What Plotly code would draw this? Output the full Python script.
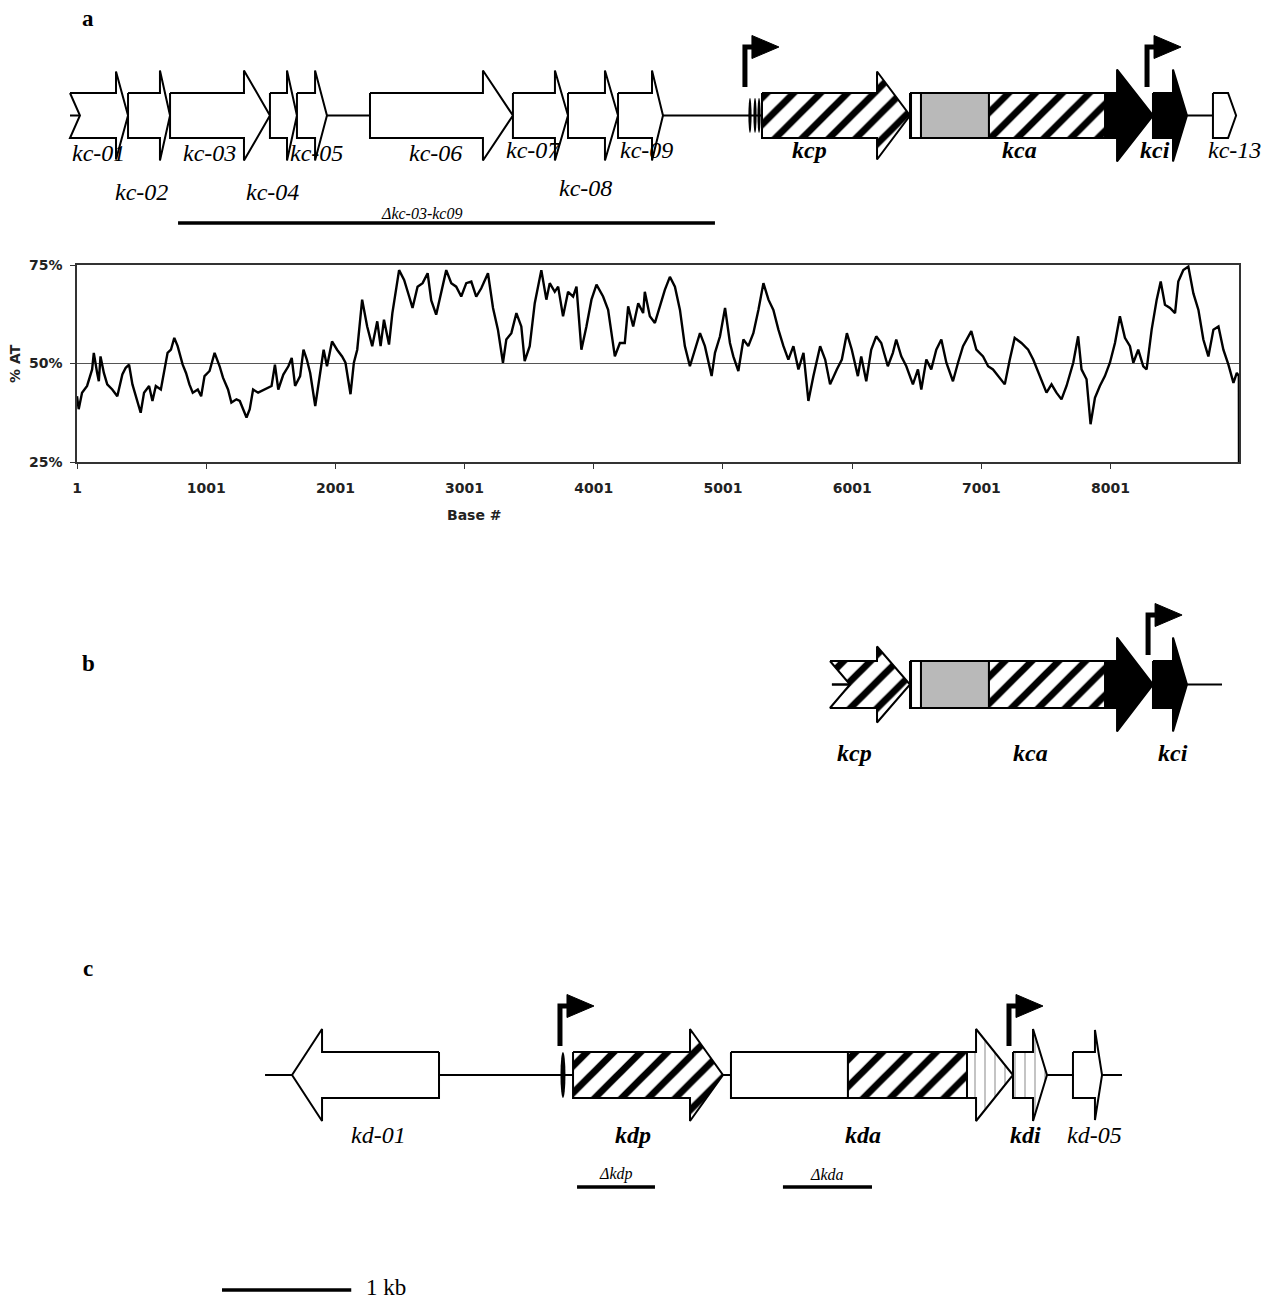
import plotly.graph_objects as go

# ---------------- DATA ----------------
# % AT sliding-window trace (base position, %AT)
AT_BASE = [1, 14, 40, 79, 118, 131, 157, 170, 183, 209,
           235, 274, 313, 352, 378, 404, 430, 455, 481, 494,
           520, 559, 585, 611, 650, 676, 702, 728, 754, 780,
           819, 845, 871, 897, 936, 962, 988, 1027, 1066, 1105,
           1131, 1170, 1196, 1235, 1261, 1287, 1313, 1338, 1364, 1403,
           1455, 1507, 1533, 1559, 1598, 1637, 1663, 1689, 1728, 1754,
           1780, 1806, 1845, 1871, 1910, 1936, 1975, 2014, 2053, 2079,
           2118, 2144, 2170, 2208, 2247, 2286, 2325, 2351, 2377, 2416,
           2442, 2494, 2533, 2572, 2598, 2637, 2676, 2715, 2743, 2781,
           2807, 2859, 2898, 2936, 2975, 3014, 3053, 3091, 3130, 3182,
           3221, 3259, 3298, 3324, 3363, 3402, 3440, 3466, 3505, 3544,
           3595, 3634, 3660, 3699, 3725, 3763, 3802, 3841, 3867, 3905,
           3944, 3983, 4022, 4073, 4112, 4151, 4164, 4203, 4241, 4267,
           4306, 4345, 4383, 4396, 4435, 4474, 4513, 4551, 4590, 4629,
           4668, 4706, 4745, 4784, 4823, 4861, 4913, 4939, 4978, 5017,
           5055, 5081, 5120, 5159, 5197, 5236, 5275, 5314, 5353, 5391,
           5430, 5469, 5507, 5546, 5585, 5624, 5662, 5701, 5753, 5792,
           5830, 5882, 5921, 5960, 5998, 6045, 6071, 6110, 6148, 6187,
           6226, 6277, 6316, 6342, 6381, 6420, 6471, 6510, 6536, 6575,
           6613, 6652, 6691, 6730, 6781, 6820, 6859, 6923, 6962, 7014,
           7053, 7091, 7130, 7182, 7221, 7259, 7311, 7363, 7402, 7453,
           7505, 7544, 7582, 7621, 7660, 7712, 7750, 7776, 7815, 7846,
           7880, 7918, 7957, 7996, 8035, 8073, 8112, 8151, 8177, 8215,
           8254, 8280, 8319, 8358, 8389, 8422, 8461, 8500, 8525, 8564,
           8603, 8642, 8681, 8719, 8758, 8797, 8836, 8874, 8913, 8952,
           8978, 8994, 8995]
AT_PCT = [41.7, 38.4, 42.6, 44.3, 48.5, 52.7, 47.6, 45.5, 51.8, 47.6,
          44.7, 43.4, 41.7, 47.2, 48.9, 49.7, 44.7, 41.7, 39.2, 37.5,
          42.6, 44.3, 40.5, 44.3, 43.4, 47.6, 52.7, 53.5, 56.5, 54.4,
          49.7, 47.6, 44.7, 42.6, 43.4, 41.7, 46.8, 48.1, 52.7, 49.3,
          46.4, 43.4, 40.1, 40.9, 40.5, 38.4, 36.3, 38.4, 43.4, 42.6,
          43.4, 44.3, 49.7, 43.4, 47.2, 49.3, 51.4, 44.3, 46.8, 53.5,
          51.0, 47.6, 39.2, 45.1, 53.5, 49.3, 55.6, 53.5, 51.8, 50.2,
          42.2, 50.2, 53.5, 66.2, 59.4, 54.4, 60.7, 54.4, 61.1, 54.8,
          62.8, 73.7, 71.2, 67.0, 64.1, 69.5, 70.4, 72.9, 66.0, 62.4,
          66.2, 73.7, 70.4, 69.5, 67.0, 70.4, 70.8, 67.0, 69.1, 72.9,
          64.1, 58.6, 50.2, 56.1, 57.7, 62.8, 59.4, 50.6, 54.4, 65.3,
          73.7, 66.2, 70.4, 68.2, 69.5, 62.0, 68.2, 67.0, 69.5, 53.5,
          59.4, 66.2, 70.0, 67.0, 63.6, 54.4, 51.8, 55.2, 55.2, 64.5,
          59.4, 65.3, 62.8, 68.2, 62.0, 60.3, 64.5, 68.7, 72.0, 69.5,
          63.6, 54.4, 49.3, 53.5, 57.7, 54.4, 46.8, 52.7, 56.9, 64.1,
          55.2, 51.8, 48.1, 56.1, 54.4, 57.7, 63.6, 70.4, 66.2, 63.6,
          58.6, 54.4, 51.0, 54.4, 48.5, 52.7, 40.5, 46.8, 54.4, 51.0,
          44.7, 48.5, 51.0, 57.7, 53.5, 46.8, 51.8, 45.5, 53.5, 56.9,
          55.2, 49.3, 52.7, 56.1, 51.8, 49.3, 44.7, 48.5, 43.4, 51.0,
          48.5, 53.5, 56.1, 50.2, 45.5, 50.2, 54.4, 58.2, 53.5, 51.8,
          49.3, 48.5, 46.8, 44.7, 51.0, 56.5, 55.2, 53.5, 51.0, 46.8,
          42.6, 44.7, 42.6, 40.9, 44.3, 50.2, 56.9, 48.5, 46.0, 34.6,
          41.3, 44.3, 46.8, 50.2, 55.2, 62.0, 56.5, 54.4, 50.2, 53.5,
          49.3, 48.5, 58.6, 66.2, 70.8, 64.9, 64.1, 62.8, 70.8, 73.7,
          74.6, 67.8, 63.6, 56.1, 51.8, 58.6, 59.4, 53.5, 49.7, 45.1,
          47.6, 46.8, 25.0]
AT_TICKS = [1, 1001, 2001, 3001, 4001, 5001, 6001, 7001, 8001]
AT_YTICKS = [25, 50, 75]

# Panel a genes (map coordinates in bp): body start, arrow-head start, tip
A_NAMES = ["kc-01", "kc-02", "kc-03", "kc-04", "kc-05", "kc-06", "kc-07",
           "kc-08", "kc-09", "kcp", "kca", "kci", "kc-13"]
A_START = [0, 449, 774, 1547, 1756, 2321, 3427, 3853, 4240, 5354, 6499, 8379, 8843]
A_HEAD = [356, 696, 1346, 1679, 1896, 3195, 3752, 4139, 4503, 6244, 8101, 8534, 8960]
A_END = [449, 774, 1547, 1756, 1988, 3427, 3853, 4240, 4588, 6499, 8379, 8642, 9022]
A_KIND = ["open"] * 9 + ["hatch", "black", "black", "open"]
A_KEY = [False] * 9 + [True, True, True, False]
A_SPAN = [0, 9022]
KCA_WHITE = [6507, 6584]
KCA_GRAY = [6584, 7110]
KCA_HATCH = [7110, 8008]
A_TERM = [5261, 5300, 5331]
A_PROM = [5222, 8333]
A_DEL = [836, 4990]
A_DEL_LABEL = "Δkc-03-kc09"

# Panel b
B_NAMES = ["kcp", "kca", "kci"]
B_START = [5880, 6499, 8379]
B_HEAD = [6244, 8101, 8534]
B_END = [6499, 8379, 8642]
B_KIND = ["hatch", "black", "black"]
B_SPAN = [5895, 8913]
B_PROM = [8341]

# Panel c
C_NAMES = ["kd-01", "kdp", "kda", "kdi", "kd-05"]
C_START = [2855, 3892, 5114, 7296, 7760]
C_HEAD = [1950, 4797, 7010, 7451, 7930]
C_END = [1718, 5052, 7296, 7559, 7985]
C_KIND = ["open", "hatch", "vline", "vline", "open"]
C_KEY = [False, True, True, True, False]
C_SPAN = [1509, 8139]
KDA_WHITE = [5114, 6019]
KDA_HATCH = [6019, 6940]
C_TERM = [3814]
C_PROM = [3791, 7265]
C_DEL = [[3923, 4526], [5516, 6205]]
C_DEL_LABEL = ["Δkdp", "Δkda"]

SCALE_BAR = [1176, 2176]
SCALE_LABEL = "1 kb"

# ---------------- LAYOUT ----------------
W, H = 1269, 1301
K = 7.737  # bp per pixel of the map scale
X0, X1 = -70 * K, (W - 70) * K
SERIF = "Liberation Serif"
SANS = "DejaVu Sans"

TRACK = {
    "a": dict(yc=115.5, bh=22.5, lab=[153, 192, 153, 192, 153, 153, 150, 188, 150, 150, 150, 150, 150]),
    "b": dict(yc=684.5, bh=23.5, lab=753),
    "c": dict(yc=1075, bh=23, lab=1135),
}
A_HH = [44, 45, 45, 45, 45, 45, 45, 45, 45, 44, 46, 46, 22.5]
A_NOTCH = [77] + [0] * 12
A_LABEL_X = [217, 557, 1083, 1563, 1911, 2824, 3582, 3985, 4464, 5725, 7350, 8395, 9013]
B_HH = [38, 47, 47]
B_NOTCH = [155, 0, 0]
B_LABEL_X = [6073, 7428, 8534]
C_HH = [46, 46, 46, 46, 45]
C_LABEL_X = [2383, 4356, 6135, 7389, 7930]

HATCH = dict(shape="/", size=19, solidity=0.36, fgcolor="black", bgcolor="white", fillmode="replace")
VLINE = dict(shape="|", size=10, solidity=0.1, fgcolor="#8a8a8a", bgcolor="white", fillmode="replace")
GRAY = "#b9b9b9"
LABEL_SIZE = 24

fig = go.Figure()


def poly(xs, ys, fill="white", pattern=None, lw=2):
    kw = dict(x=xs, y=ys, mode="lines", fill="toself", fillcolor=fill,
              line=dict(color="black", width=lw), hoverinfo="skip",
              showlegend=False, xaxis="x", yaxis="y")
    if pattern is not None:
        kw["fillpattern"] = pattern
    fig.add_trace(go.Scatter(**kw))


def line(xs, ys, lw=2, color="black"):
    fig.add_trace(go.Scatter(x=xs, y=ys, mode="lines", line=dict(color=color, width=lw),
                             hoverinfo="skip", showlegend=False, xaxis="x", yaxis="y"))


def arrow(s, h, e, yc, bh, hh, notch=0):
    xs = [s, h, h, e, h, h, s]
    ys = [yc - bh, yc - bh, yc - hh, yc, yc + hh, yc + bh, yc + bh]
    if notch:
        d = notch if e > s else -notch
        xs.append(s + d)
        ys.append(yc)
    xs.append(s)
    ys.append(yc - bh)
    return xs, ys


def rect(x0, x1, yc, bh):
    return [x0, x1, x1, x0, x0], [yc - bh, yc - bh, yc + bh, yc + bh, yc - bh]


def draw_gene(kind, s, h, e, yc, bh, hh, notch=0):
    xs, ys = arrow(s, h, e, yc, bh, hh, notch)
    if kind == "open":
        poly(xs, ys)
    elif kind == "hatch":
        poly(xs, ys, pattern=HATCH)
    elif kind == "black":
        poly(xs, ys, fill="black")
    elif kind == "vline":
        poly(xs, ys, pattern=VLINE)


def promoter(p, body_top):
    ybot = body_top - 6
    ytop = ybot - 40
    off, tw, th = 7 * K, 27 * K, 11.5
    line([p, p, p + off + 1], [ybot, ytop, ytop], lw=5)
    poly([p + off, p + off, p + off + tw, p + off], [ytop - th, ytop + th, ytop, ytop - th],
         fill="black", lw=1)


def label(x, y, text, key=False, size=LABEL_SIZE):
    t = "<b><i>%s</i></b>" % text if key else "<i>%s</i>" % text
    fig.add_annotation(x=x, y=y, xref="x", yref="y", text=t, showarrow=False,
                       font=dict(family=SERIF, size=size, color="black"),
                       xanchor="center", yanchor="middle")


# ---- Panel a ----
ta = TRACK["a"]
line(A_SPAN, [ta["yc"], ta["yc"]], lw=2)
for i, nm in enumerate(A_NAMES):
    draw_gene(A_KIND[i], A_START[i], A_HEAD[i], A_END[i], ta["yc"], ta["bh"], A_HH[i], A_NOTCH[i])
for seg, fill, pat in [(KCA_WHITE, "white", None), (KCA_GRAY, GRAY, None), (KCA_HATCH, "white", HATCH)]:
    xs, ys = rect(seg[0], seg[1], ta["yc"], ta["bh"])
    poly(xs, ys, fill=fill, pattern=pat)
for t in A_TERM:
    fig.add_shape(type="circle", xref="x", yref="y", x0=t - 1.6 * K, x1=t + 1.6 * K,
                  y0=ta["yc"] - 17.5, y1=ta["yc"] + 17.5, fillcolor="black", line=dict(width=0))
for p in A_PROM:
    promoter(p, ta["yc"] - ta["bh"])
for i, nm in enumerate(A_NAMES):
    label(A_LABEL_X[i], ta["lab"][i], nm, A_KEY[i])
line(A_DEL, [223, 223], lw=3.5)
fig.add_annotation(x=2716, y=213, xref="x", yref="y", text="<i>%s</i>" % A_DEL_LABEL, showarrow=False,
                   font=dict(family=SERIF, size=16, color="black"))

# ---- Panel b ----
tb = TRACK["b"]
line(B_SPAN, [tb["yc"], tb["yc"]], lw=2)
for i, nm in enumerate(B_NAMES):
    draw_gene(B_KIND[i], B_START[i], B_HEAD[i], B_END[i], tb["yc"], tb["bh"], B_HH[i], B_NOTCH[i])
line([B_SPAN[0], B_START[0] + B_NOTCH[0]], [tb["yc"], tb["yc"]], lw=2)
for seg, fill, pat in [(KCA_WHITE, "white", None), (KCA_GRAY, GRAY, None), (KCA_HATCH, "white", HATCH)]:
    xs, ys = rect(seg[0], seg[1], tb["yc"], tb["bh"])
    poly(xs, ys, fill=fill, pattern=pat)
for p in B_PROM:
    promoter(p, tb["yc"] - tb["bh"])
for i, nm in enumerate(B_NAMES):
    label(B_LABEL_X[i], tb["lab"], nm, True)

# ---- Panel c ----
tc = TRACK["c"]
line(C_SPAN, [tc["yc"], tc["yc"]], lw=2)
for i, nm in enumerate(C_NAMES):
    draw_gene(C_KIND[i], C_START[i], C_HEAD[i], C_END[i], tc["yc"], tc["bh"], C_HH[i])
for seg, pat in [(KDA_WHITE, None), (KDA_HATCH, HATCH)]:
    xs, ys = rect(seg[0], seg[1], tc["yc"], tc["bh"])
    poly(xs, ys, pattern=pat)
for t in C_TERM:
    fig.add_shape(type="circle", xref="x", yref="y", x0=t - 2.5 * K, x1=t + 2.5 * K,
                  y0=tc["yc"] - 23, y1=tc["yc"] + 23, fillcolor="black", line=dict(width=0))
for p in C_PROM:
    promoter(p, tc["yc"] - tc["bh"])
for i, nm in enumerate(C_NAMES):
    label(C_LABEL_X[i], tc["lab"], nm, C_KEY[i])
for (d0, d1), txt in zip(C_DEL, C_DEL_LABEL):
    line([d0, d1], [1187, 1187], lw=3.5)
    fig.add_annotation(x=(d0 + d1) / 2, y=1174, xref="x", yref="y", text="<i>%s</i>" % txt,
                       showarrow=False, font=dict(family=SERIF, size=16, color="black"))

# ---- scale bar ----
line(SCALE_BAR, [1290, 1290], lw=3.5)
fig.add_annotation(x=SCALE_BAR[1] + 13 * K, y=1287, xref="x", yref="y", text=SCALE_LABEL,
                   showarrow=False, xanchor="left", font=dict(family=SERIF, size=23, color="black"))

# ---- panel letters ----
for letter, py in [("a", 18), ("b", 663), ("c", 968)]:
    fig.add_annotation(x=88 * K + X0, y=py, xref="x", yref="y", text="<b>%s</b>" % letter,
                       showarrow=False, font=dict(family=SERIF, size=23, color="black"))

# ---- AT plot ----
fig.add_trace(go.Scatter(x=AT_BASE, y=AT_PCT, mode="lines", line=dict(color="black", width=2.4),
                         hoverinfo="skip", showlegend=False, xaxis="x2", yaxis="y2"))
fig.add_annotation(x=15 * K + X0, y=364, xref="x", yref="y", text="<b>% AT</b>",
                   textangle=-90, showarrow=False, font=dict(family=SANS, size=14, color="#222"))
fig.add_annotation(x=474 * K + X0, y=515, xref="x", yref="y", text="<b>Base #</b>",
                   showarrow=False, font=dict(family=SANS, size=14, color="#222"))

tickfont = dict(family=SANS, size=14, color="#222", weight="bold")
fig.update_layout(
    template="none",
    width=W, height=H, autosize=False,
    margin=dict(l=0, r=0, t=0, b=0, pad=0),
    paper_bgcolor="white", plot_bgcolor="rgba(0,0,0,0)",
    showlegend=False,
    xaxis=dict(domain=[0, 1], range=[X0, X1], visible=False, fixedrange=True, automargin=False),
    yaxis=dict(domain=[0, 1], range=[H, 0], visible=False, fixedrange=True, automargin=False),
    xaxis2=dict(domain=[77 / W, 1239 / W], range=[1, 8995], anchor="y2",
                tickvals=AT_TICKS, ticktext=[str(v) for v in AT_TICKS],
                ticks="outside", ticklen=5, tickcolor="#333", tickfont=tickfont,
                ticklabelstandoff=7, automargin=False, fixedrange=True,
                showline=True, linecolor="#333", linewidth=1.5, mirror=True,
                showgrid=False, zeroline=False),
    yaxis2=dict(domain=[1 - 462 / H, 1 - 265 / H], range=[25, 75], anchor="x2",
                tickvals=AT_YTICKS, ticktext=["%d%%" % v for v in AT_YTICKS],
                ticks="outside", ticklen=5, tickcolor="#333", tickfont=tickfont,
                ticklabelstandoff=5, automargin=False, fixedrange=True,
                showline=True, linecolor="#333", linewidth=1.5, mirror=True,
                showgrid=True, gridcolor="#555", gridwidth=1, zeroline=False),
)

fig.write_html("out.html", config={"displayModeBar": False},
               post_script="document.body.style.margin='0px';")
